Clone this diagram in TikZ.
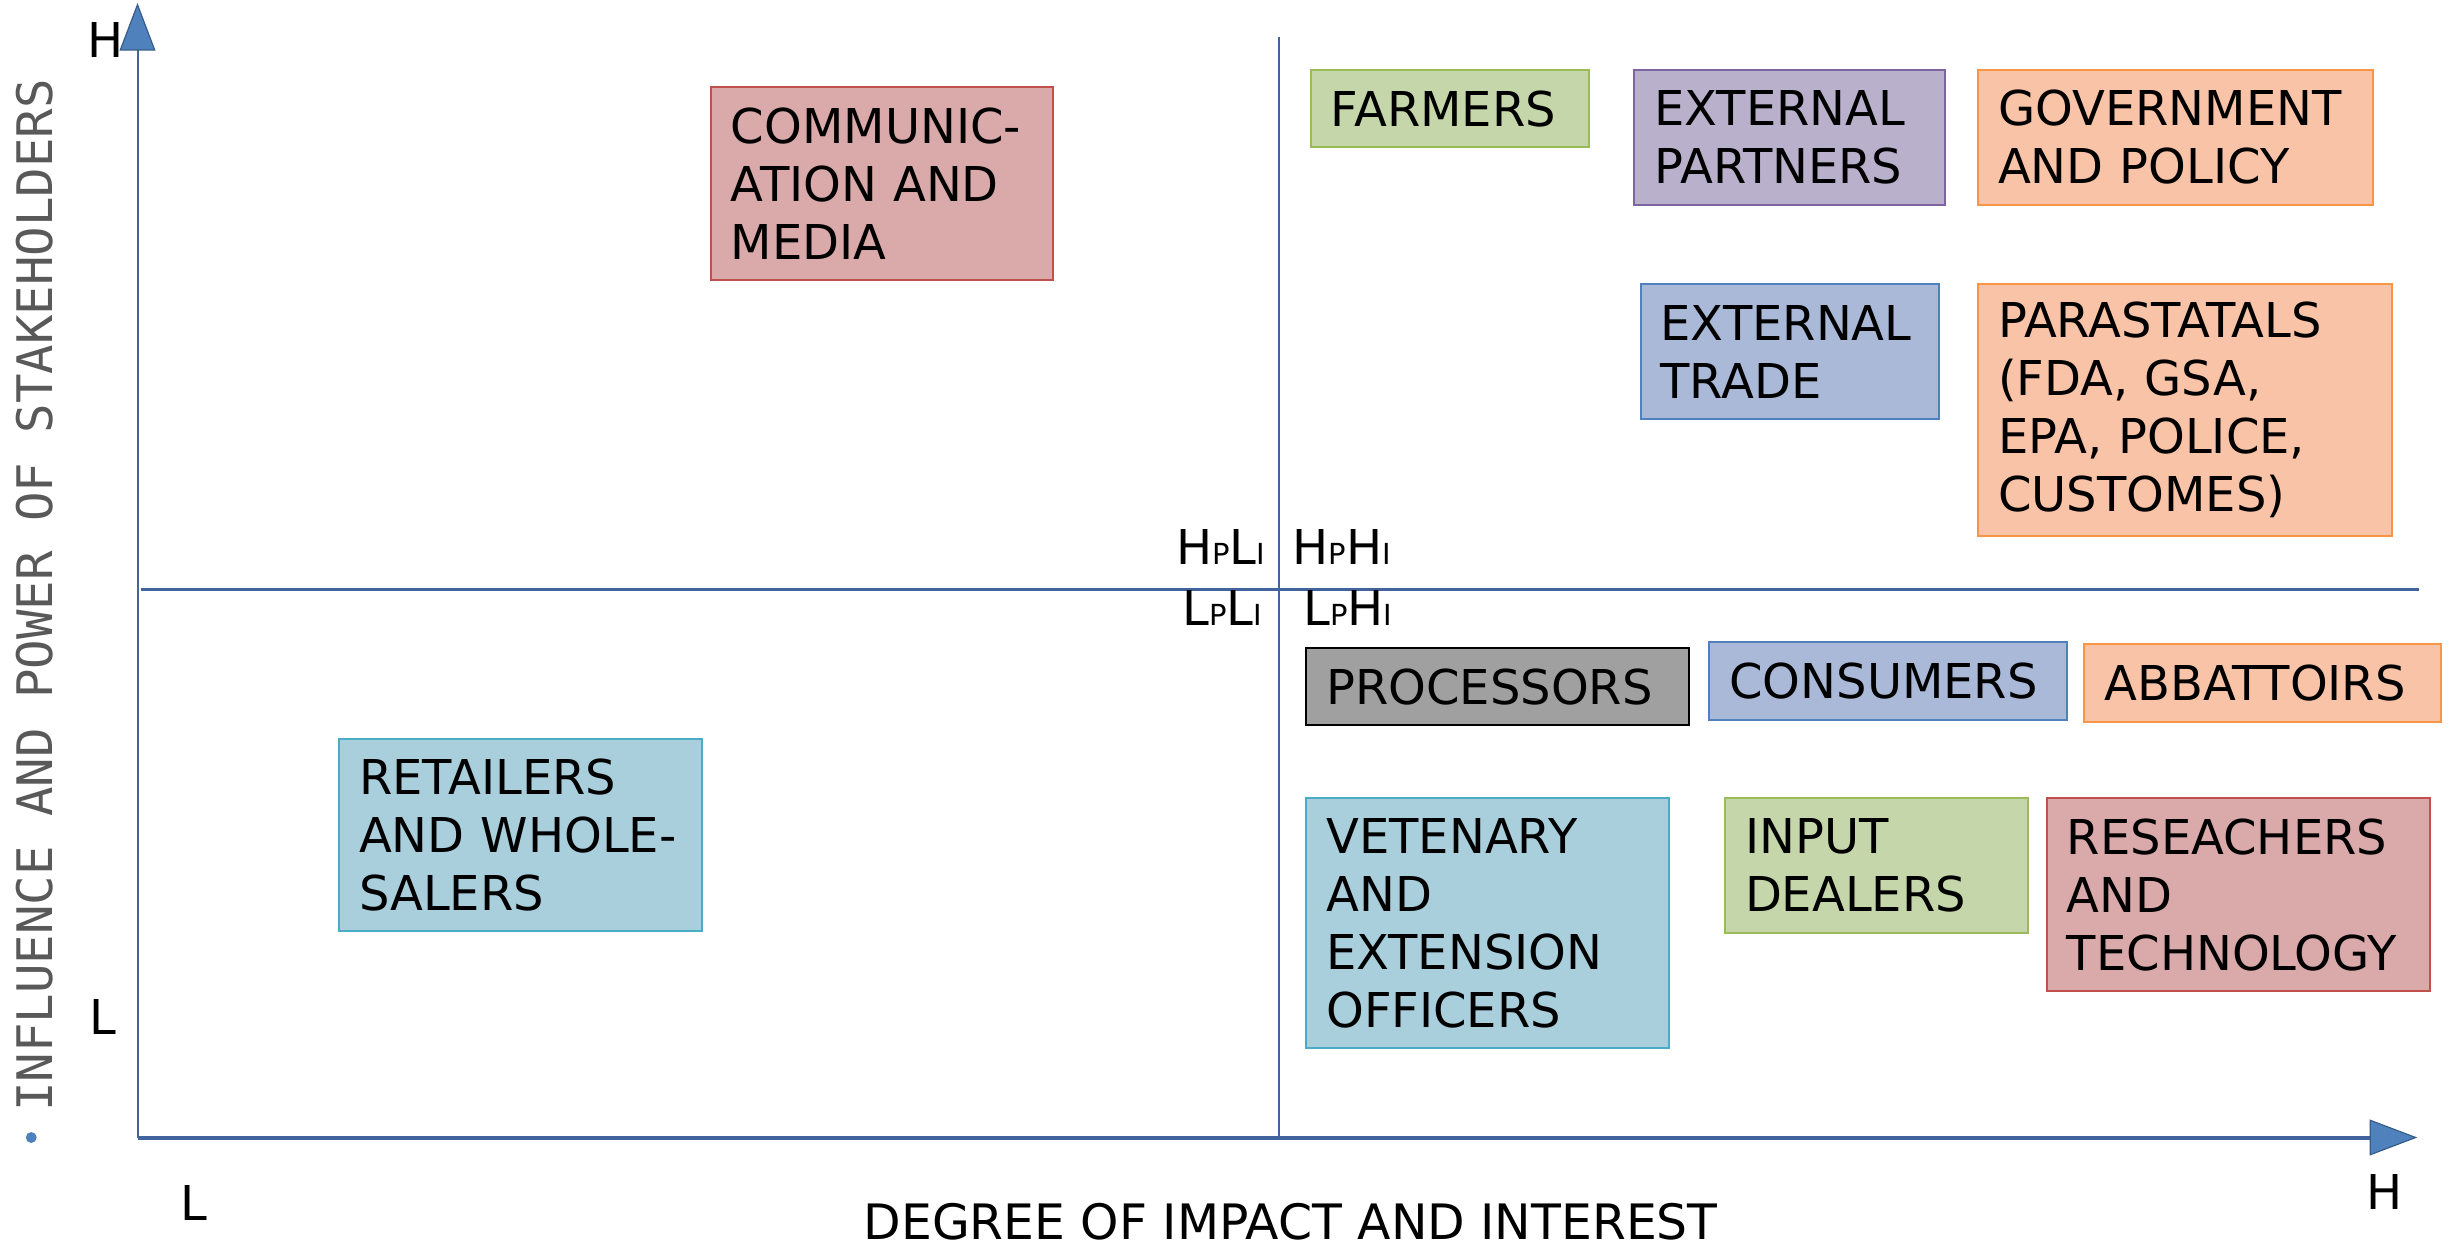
\documentclass[tikz,border=0pt]{standalone}
\usepackage{fontspec}
\setmainfont{DejaVu Sans}
\newfontfamily\monofam{DejaVu Sans Mono}
\definecolor{axisblue}{RGB}{64,100,155}
\definecolor{arrowfill}{RGB}{79,129,189}
\definecolor{arrowedge}{RGB}{56,93,138}
\definecolor{gfill}{RGB}{197,215,170}\definecolor{gedge}{RGB}{155,187,89}
\definecolor{pfill}{RGB}{185,176,204}\definecolor{pedge}{RGB}{128,100,162}
\definecolor{ofill}{RGB}{249,195,168}\definecolor{oedge}{RGB}{247,150,70}
\definecolor{bfill}{RGB}{169,185,215}\definecolor{bedge}{RGB}{79,129,189}
\definecolor{tfill}{RGB}{169,206,220}\definecolor{tedge}{RGB}{75,172,198}
\definecolor{rfill}{RGB}{218,169,169}\definecolor{redge}{RGB}{192,80,77}
\definecolor{kfill}{RGB}{160,160,160}
\definecolor{titlegray}{RGB}{89,89,89}
\newcommand\stakebox[7]{%
  \pgfmathsetmacro\sbw{(#4-#2)*0.78125-20}%
  \pgfmathsetmacro\sbh{(#5-#3)*0.78125}%
  \node[boxbase,#6,anchor=north west,text width=\sbw pt,minimum height=\sbh pt] (#1) at (#2,#3) {#7};%
}
\newcommand\quadlbl[4]{#1{\fontsize{14.5}{15}\selectfont #2}#3{\fontsize{14.5}{15}\selectfont #4}}
\begin{document}
\begin{tikzpicture}[x=0.78125pt,y=-0.78125pt,
  boxbase/.style={draw,line width=1pt,inner xsep=10pt,inner ysep=0pt,outer sep=0pt,align=left,
    font=\fontsize{24}{29}\selectfont},
  greenbox/.style={fill=gfill,draw=gedge},
  purplebox/.style={fill=pfill,draw=pedge},
  orangebox/.style={fill=ofill,draw=oedge},
  bluebox/.style={fill=bfill,draw=bedge},
  tealbox/.style={fill=tfill,draw=tedge},
  redbox/.style={fill=rfill,draw=redge},
  graybox/.style={fill=kfill,draw=black},
  axislbl/.style={font=\fontsize{24}{29}\selectfont,inner sep=0pt},
  axisline/.style={draw=axisblue},
  arrowhead/.style={fill=arrowfill,draw=arrowedge,line width=0.6pt}]
\useasboundingbox (0,0) rectangle (1568,797.44);
% axes
\coordinate (O) at (88,728);
\coordinate (ytop) at (88,32);
\coordinate (ytip) at (88,3);
\coordinate (xend) at (1517,728);
\coordinate (xtip) at (1546,728);
\draw[axisline,line width=1pt] (O) -- (ytop);
\draw[axisline,line width=2pt] (O) -- (xend);
\draw[arrowhead] (ytip) -- (77,32) -- (99,32) -- cycle;
\draw[arrowhead] (xtip) -- (1517,717) -- (1517,739) -- cycle;
% dividers
\coordinate (vtop) at (818.5,24);
\coordinate (vbot) at (818.5,728);
\coordinate (hl) at (90,377);
\coordinate (hr) at (1548,377);
\draw[axisline,line width=1pt] (vtop) -- (vbot);
\draw[axisline,line width=1.5pt] (hl) -- (hr);
% quadrant labels
\node[axislbl,anchor=base east] (hpli) at (810,361) {\quadlbl{H}{P}{L}{I}};
\node[axislbl,anchor=base west] (hphi) at (827,361) {\quadlbl{H}{P}{H}{I}};
\node[axislbl,anchor=base east] (lpli) at (808,400) {\quadlbl{L}{P}{L}{I}};
\node[axislbl,anchor=base west] (lphi) at (834,400) {\quadlbl{L}{P}{H}{I}};
% axis end labels
\node[axislbl,anchor=base west] (yh) at (56,37) {H};
\node[axislbl,anchor=base west] (yl) at (57,662) {L};
\node[axislbl,anchor=base west] (xl) at (115,781) {L};
\node[axislbl,anchor=base west] (xh) at (1514,774) {H};
% titles
\node[inner sep=0pt,anchor=base,font=\fontsize{24.4}{29}\selectfont] (xtitle) at (826,793) {DEGREE OF IMPACT AND INTEREST};
\node[inner sep=0pt,rotate=90,text=titlegray,font=\monofam\fontsize{24.5}{29}\selectfont] (ytitle) at (22,381) {INFLUENCE AND POWER OF STAKEHOLDERS};
\fill[arrowfill] (20,728) circle (3.5);
% stakeholder boxes
\stakebox{comm}{455}{56}{674}{179}{redbox}{COMMUNIC-\\ATION AND\\MEDIA}
\stakebox{farm}{839}{45}{1017}{94}{greenbox}{FARMERS}
\stakebox{extp}{1046}{45}{1245}{131}{purplebox}{EXTERNAL\\PARTNERS}
\stakebox{gov}{1266}{45}{1519}{131}{orangebox}{GOVERNMENT\\AND POLICY}
\stakebox{extt}{1050}{182}{1241}{268}{bluebox}{EXTERNAL\\TRADE}
\stakebox{para}{1266}{182}{1531}{343}{orangebox}{PARASTATALS\\(FDA, GSA,\\EPA, POLICE,\\CUSTOMES)}
\stakebox{proc}{836}{415}{1081}{464}{graybox}{PROCESSORS}
\stakebox{cons}{1094}{411}{1323}{461}{bluebox}{CONSUMERS}
\stakebox{abb}{1334}{412}{1562}{462}{orangebox}{ABBATTOIRS}
\stakebox{ret}{217}{473}{449}{596}{tealbox}{RETAILERS\\AND WHOLE-\\SALERS}
\stakebox{vet}{836}{511}{1068}{671}{tealbox}{VETENARY\\AND\\EXTENSION\\OFFICERS}
\stakebox{inp}{1104}{511}{1298}{597}{greenbox}{INPUT\\DEALERS}
\stakebox{res}{1310}{511}{1555}{634}{redbox}{RESEACHERS\\AND\\TECHNOLOGY}
\end{tikzpicture}
\end{document}
